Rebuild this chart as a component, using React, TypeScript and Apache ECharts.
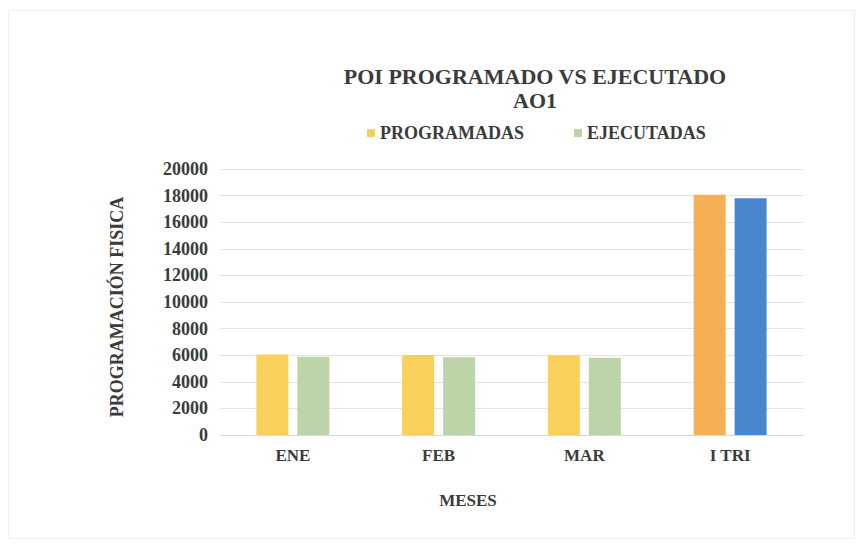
import React, { useEffect, useRef } from "react";
import * as echarts from "echarts";

const categories = ["ENE", "FEB", "MAR", "I TRI"];
const programadas = [6060, 6010, 5990, 18060];
const ejecutadas = [5890, 5840, 5800, 17800];
const yTicks = { min: 0, max: 20000, interval: 2000 };

const FONT = "Times New Roman, Liberation Serif, serif";
const TEXT = "#3b3b3b";
const C_PROG = "#F9D05C";
const C_EJEC = "#BCD4A8";
const C_PROG_TOTAL = "#F5AF55";
const C_EJEC_TOTAL = "#4A86CB";

export default function App() {
  const ref = useRef<HTMLDivElement>(null);
  useEffect(() => {
    if (!ref.current) return;
    const chart = echarts.init(ref.current, null, { renderer: "svg" });
    const last = categories.length - 1;
    chart.setOption({
      animation: false,
      backgroundColor: "#ffffff",
      textStyle: { fontFamily: FONT },
      title: {
        text: "POI PROGRAMADO VS EJECUTADO",
        subtext: "AO1",
        left: 530,
        top: 60,
        textAlign: "center",
        itemGap: 2,
        textStyle: {
          fontFamily: FONT,
          fontWeight: "bold",
          fontSize: 22,
          color: TEXT,
        },
        subtextStyle: {
          fontFamily: FONT,
          fontWeight: "bold",
          fontSize: 22,
          color: TEXT,
        },
      },
      legend: {
        left: 362,
        top: 119,
        itemWidth: 8,
        itemHeight: 8,
        itemGap: 50,
        icon: "rect",
        textStyle: {
          fontFamily: FONT,
          fontWeight: "bold",
          fontSize: 18,
          color: TEXT,
        },
        data: ["PROGRAMADAS", "EJECUTADAS"],
      },
      grid: { left: 220, right: 60, top: 169, bottom: 111, containLabel: false },
      xAxis: {
        type: "category",
        data: categories,
        axisTick: { show: false },
        axisLine: { lineStyle: { color: "#d9d9d9", width: 1 } },
        axisLabel: {
          margin: 12,
          fontFamily: FONT,
          fontWeight: "bold",
          fontSize: 17,
          color: TEXT,
        },
      },
      yAxis: {
        type: "value",
        min: yTicks.min,
        max: yTicks.max,
        interval: yTicks.interval,
        axisLine: { show: false },
        axisTick: { show: false },
        splitLine: { lineStyle: { color: "#e4e4e4", width: 1 } },
        axisLabel: {
          margin: 12,
          formatter: (v: number) => String(v),
          fontFamily: FONT,
          fontWeight: "bold",
          fontSize: 18,
          color: TEXT,
        },
      },
      series: [
        {
          name: "PROGRAMADAS",
          type: "bar",
          barWidth: 32,
          barGap: "28%",
          itemStyle: { color: C_PROG },
          data: programadas.map((v, i) =>
            i === last ? { value: v, itemStyle: { color: C_PROG_TOTAL } } : v
          ),
        },
        {
          name: "EJECUTADAS",
          type: "bar",
          barWidth: 32,
          barGap: "28%",
          itemStyle: { color: C_EJEC },
          data: ejecutadas.map((v, i) =>
            i === last ? { value: v, itemStyle: { color: C_EJEC_TOTAL } } : v
          ),
        },
      ],
      graphic: [
        {
          type: "text",
          x: 117,
          y: 307,
          rotation: Math.PI / 2,
          style: {
            text: "PROGRAMACIÓN FISICA",
            fontFamily: FONT,
            fontWeight: "bold",
            fontSize: 18,
            fill: TEXT,
            align: "center",
            verticalAlign: "middle",
          },
        },
        {
          type: "text",
          x: 468,
          y: 500,
          style: {
            text: "MESES",
            fontFamily: FONT,
            fontWeight: "bold",
            fontSize: 17,
            fill: TEXT,
            align: "center",
            verticalAlign: "middle",
          },
        },
        {
          type: "rect",
          shape: { x: 8.5, y: 10.5, width: 846, height: 528 },
          style: { fill: "none", stroke: "#efefef", lineWidth: 1 },
          silent: true,
        },
      ],
    });
    return () => chart.dispose();
  }, []);
  return (
    <div
      ref={ref}
      style={{ position: "fixed", left: 0, top: 0, width: 863, height: 546 }}
    />
  );
}
